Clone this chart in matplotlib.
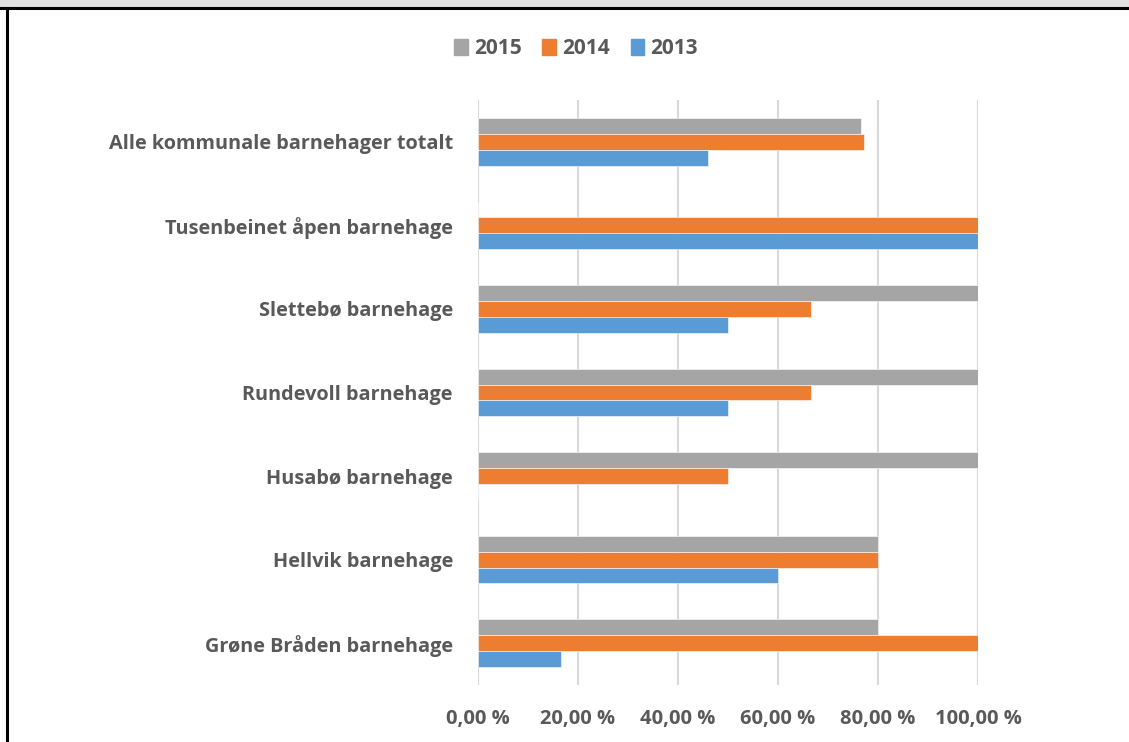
import matplotlib.pyplot as plt
import numpy as np
from matplotlib.lines import Line2D
from matplotlib.patches import Rectangle

plt.rcParams["font.family"] = ["Open Sans", "DejaVu Sans"]

categories = [
    "Alle kommunale barnehager totalt",
    "Tusenbeinet åpen barnehage",
    "Slettebø barnehage",
    "Rundevoll barnehage",
    "Husabø barnehage",
    "Hellvik barnehage",
    "Grøne Bråden barnehage",
]
years = ["2015", "2014", "2013"]
v2015 = [76.7, 0, 100, 100, 100, 80, 80]
v2014 = [77.2, 100, 66.7, 66.7, 50, 80, 100]
v2013 = [46.0, 100, 50, 50, 0, 60, 16.7]
xticks = [0, 20, 40, 60, 80, 100]

colors = ["#A5A5A5", "#ED7D31", "#5B9BD5"]
text_col = "#595959"

fig = plt.figure(figsize=(11.29, 7.42), dpi=100)
ax = fig.add_axes([478 / 1129, 1 - 685 / 742, 500 / 1129, 585 / 742])

y = np.arange(len(categories))
h = 0.19
for off, vals, c, lab in zip((-h, 0, h), (v2015, v2014, v2013), colors, years):
    ax.barh(y + off, vals, height=h, color=c, label=lab, edgecolor="white", linewidth=0.4)

ax.set_ylim(len(categories) - 0.5, -0.5)
ax.set_xlim(0, 100)
ax.set_yticks(y)
ax.set_yticklabels(categories, fontsize=14.3, fontweight="bold", color=text_col)
ax.set_xticks(xticks)
ax.set_xticklabels([f"{t},00 %" for t in xticks], fontsize=14.5, fontweight="bold", color=text_col)
ax.tick_params(axis="both", length=0)
ax.tick_params(axis="y", pad=18)
ax.tick_params(axis="x", pad=17)
ax.grid(axis="x", color="#D9D9D9", linewidth=1.5)
ax.set_axisbelow(True)
for s in ax.spines.values():
    s.set_visible(False)

handles = [Rectangle((0, 0), 1, 1, color=c) for c in colors]
fig.legend(handles, years, loc="center", bbox_to_anchor=(576 / 1129, 1 - 49 / 742),
           ncol=3, frameon=False, handlelength=0.65, handleheight=0.8, handletextpad=0.3,
           columnspacing=1.0, prop={"weight": "bold", "size": 15}, labelcolor=text_col)

# frame: gray band on top, black lines top and left
fig.patches.append(Rectangle((0, 1 - 7 / 742), 1, 7 / 742, transform=fig.transFigure,
                             color="#E0E0E0", zorder=0))
fig.lines.append(Line2D([0, 1], [1 - 8 / 742] * 2, transform=fig.transFigure, color="black", linewidth=2.2))
fig.lines.append(Line2D([7 / 1129] * 2, [0, 1 - 8 / 742], transform=fig.transFigure, color="black", linewidth=2.2))

fig.savefig("out.png", dpi=100)
